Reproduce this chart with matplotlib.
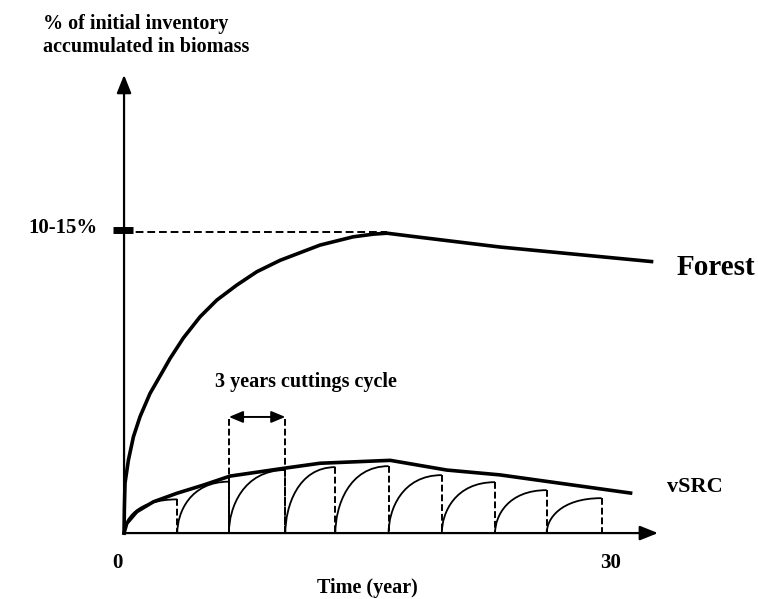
import matplotlib
matplotlib.use('Agg')
import matplotlib.pyplot as plt
from matplotlib.path import Path
from matplotlib.patches import PathPatch

plt.rcParams['font.family'] = ['Liberation Serif', 'DejaVu Serif']
plt.rcParams['font.weight'] = 'bold'

# Forest curve (years, % of initial inventory)
forest_years = [0, 0.02, 0.06, 0.27, 0.58, 0.99, 1.61, 2.44, 2.85, 3.68, 4.71, 5.75, 6.99, 8.23,
                9.67, 12.15, 14.2, 15.44, 16.3, 18.35, 23.3, 32.7]
forest_values = [0, 1.0, 2.06, 3.01, 3.97, 4.8, 5.76, 6.72, 7.2, 8.05, 8.92, 9.61, 10.23, 10.78,
                 11.25, 11.88, 12.22, 12.33, 12.37, 12.2, 11.8, 11.2]

# vSRC envelope
envelope_years = [0, 0.17, 0.79, 1.82, 3.27, 4.92, 6.57, 9.88, 12.15, 16.5, 20.0, 23.3, 31.4]
envelope_values = [0, 0.4, 0.88, 1.29, 1.64, 1.98, 2.35, 2.67, 2.88, 3.0, 2.6, 2.4, 1.65]

# cutting cycles: cut times and biomass reached just before each cut
cut_years = [3.3, 6.5, 10.0, 13.1, 16.4, 19.7, 23.0, 26.2, 29.6]
cycle_peaks = [1.39, 2.12, 2.6, 2.72, 2.76, 2.39, 2.1, 1.77, 1.44]

plateau_value = 12.5
plateau_label = '10-15%'
cycle_marker = (6.5, 10.0)

fig = plt.figure(figsize=(7.58, 5.99), dpi=100)
ax = fig.add_axes([0, 0, 1, 1])
ax.set_xlim(-7.69, 39.3)
ax.set_ylim(-2.72, 21.99)
ax.axis('off')

# axes with arrows
ax.annotate('', xy=(0, 18.9), xytext=(0, 0),
            arrowprops=dict(arrowstyle='-|>,head_length=0.5,head_width=0.2', mutation_scale=22,
                            lw=1.6, color='k', shrinkA=0, shrinkB=0))
ax.annotate('', xy=(33.1, 0), xytext=(0, 0),
            arrowprops=dict(arrowstyle='-|>,head_length=0.5,head_width=0.2', mutation_scale=22,
                            lw=1.6, color='k', shrinkA=0, shrinkB=0))

# plateau tick + dashed reference
ax.plot([-0.7, 0.55], [plateau_value, plateau_value], color='k', lw=5, solid_capstyle='butt')
ax.plot([0, forest_years[forest_values.index(max(forest_values))]], [plateau_value - 0.1, plateau_value - 0.1],
        color='k', lw=1.4, ls=(0, (4, 2)))

ax.plot(forest_years, forest_values, color='k', lw=2.6, solid_joinstyle='round')
ax.plot(envelope_years, envelope_values, color='k', lw=2.6, solid_joinstyle='round')

# sawtooth of cutting cycles
starts = [0] + cut_years[:-1]
for x0, x1, p in zip(starts, cut_years, cycle_peaks):
    w = x1 - x0
    verts = [(x0, 0), (x0, 0.4 * p), (x0 + 0.25 * w, p), (x1, p)]
    codes = [Path.MOVETO, Path.CURVE4, Path.CURVE4, Path.CURVE4]
    ax.add_patch(PathPatch(Path(verts, codes), fill=False, lw=1.3, color='k'))
    ax.plot([x1, x1], [p, 0], color='k', lw=1.4, ls=(0, (3.5, 1.5)))

# 3 years cycle marker
for xm in cycle_marker:
    ax.plot([xm, xm], [4.7, 0], color='k', lw=1.4, ls=(0, (3.5, 1.5)))
ax.annotate('', xy=(cycle_marker[1], 4.79), xytext=(cycle_marker[0], 4.79),
            arrowprops=dict(arrowstyle='<|-|>,head_length=0.6,head_width=0.25', mutation_scale=14,
                            lw=1.4, color='k', shrinkA=0, shrinkB=0))

ax.text(5.64, 6.23, '3 years cuttings cycle', fontsize=14.5, ha='left', va='center')
ax.text(-5.02, 21.0, '% of initial inventory', fontsize=14.5, ha='left', va='center')
ax.text(-5.02, 20.05, 'accumulated in biomass', fontsize=14.5, ha='left', va='center')
ax.text(-1.61, 12.58, plateau_label, fontsize=15, ha='right', va='center')
ax.text(34.28, 10.97, 'Forest', fontsize=21, ha='left', va='center')
ax.text(33.66, 1.9, 'vSRC', fontsize=16, ha='left', va='center')
ax.text(-0.43, -1.24, '0', fontsize=15, ha='center', va='center')
ax.text(30.13, -1.24, '30', fontsize=15, ha='center', va='center')
ax.text(15.07, -2.27, 'Time (year)', fontsize=14.5, ha='center', va='center')

fig.savefig('out.png', dpi=100)
